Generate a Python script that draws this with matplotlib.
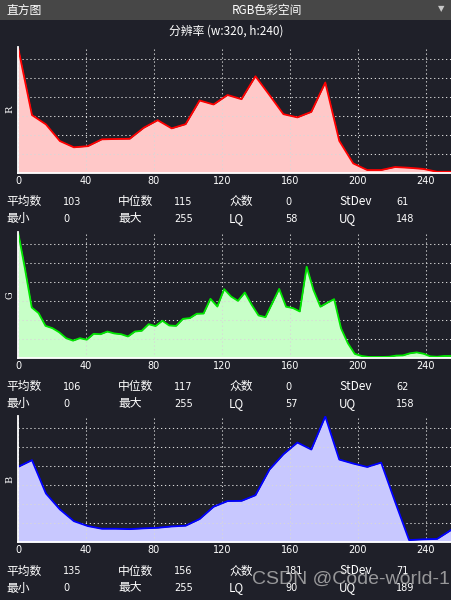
import matplotlib
matplotlib.use("Agg")
import matplotlib.pyplot as plt
import numpy as np

plt.rcParams['font.family'] = ['Noto Sans CJK SC', 'DejaVu Sans']

# histogram heights (in grid steps)
r_vals = [6.63, 3.04, 2.55, 1.67, 1.34, 1.40, 1.76, 1.78, 1.79, 2.37, 2.77, 2.34, 2.56, 3.81, 3.60, 4.10,
          3.88, 5.09, 4.10, 3.09, 2.92, 3.21, 4.76, 1.68, 0.49, 0.14, 0.14, 0.30, 0.26, 0.20, 0.05, 0.05]
g_vals = [6.65, 4.72, 2.65, 2.35, 1.68, 1.56, 1.34, 1.03, 0.90, 1.03, 0.95, 1.26, 1.24, 1.38, 1.28, 1.24,
          1.12, 1.38, 1.42, 1.77, 1.67, 1.95, 1.70, 1.68, 2.05, 2.09, 2.32, 2.33, 3.11, 2.70, 3.62, 3.23,
          3.00, 3.44, 2.79, 2.23, 2.14, 2.88, 3.63, 2.69, 2.62, 2.44, 4.80, 3.56, 2.69, 2.90, 3.09, 1.55,
          0.76, 0.20, 0.09, 0.04, 0.04, 0.04, 0.05, 0.11, 0.12, 0.23, 0.28, 0.21, 0.07, 0.05, 0.09, 0.09]
b_vals = [3.96, 4.32, 2.56, 1.72, 1.10, 0.84, 0.70, 0.70, 0.68, 0.72, 0.75, 0.82, 0.86, 1.21, 1.86, 2.16,
          2.17, 2.47, 3.82, 4.63, 5.25, 4.88, 6.63, 4.35, 4.14, 3.96, 4.19, 2.12, 0.10, 0.14, 0.16, 0.63]

xticks = [0, 40, 80, 120, 160, 200, 240]
names = ["R", "G", "B"]
row1_names = ["平均数", "中位数", "众数", "StDev"]
row2_names = ["最小", "最大", "LQ", "UQ"]
r_stats = [["103", "115", "0", "61"], ["0", "255", "58", "148"]]
g_stats = [["106", "117", "0", "62"], ["0", "255", "57", "158"]]
b_stats = [["135", "156", "181", "71"], ["0", "255", "90", "189"]]

bg = '#1f2029'
W, H = 451, 600
fig = plt.figure(figsize=(W / 100, H / 100), dpi=100, facecolor=bg)

def px(x, y):
    return x / W, 1 - y / H

# title bar
fig.patches.append(plt.Rectangle((0, 1 - 20 / H), 1, 20 / H, transform=fig.transFigure,
                                 facecolor='#474747', edgecolor='none', zorder=0))
fig.text(*px(6, 10), "直方图", color='white', fontsize=8.5, va='center', ha='left')
fig.text(*px(267, 10), "RGB色彩空间", color='white', fontsize=8.5, va='center', ha='center')
fig.text(*px(441, 9), "▼", color='#c8c8c8', fontsize=6, va='center', ha='center', family='DejaVu Sans')
fig.text(*px(226, 31), "分辨率 (w:320, h:240)", color='white', fontsize=8.5, va='center', ha='center')

panels = [
    (r_vals, '#ffc8c8', '#ff0000', r_stats, 172.7),
    (g_vals, '#c8ffc8', '#00e600', g_stats, 357.7),
    (b_vals, '#c8c8ff', '#0000ff', b_stats, 542.0),
]
col_x = [6.7, 63.3, 118.3, 174, 229, 285, 339.3, 396]

for k, (vals, fill, line, stats, bottom) in enumerate(panels):
    ax = fig.add_axes([18 / W, 1 - bottom / H, (W - 18) / W, 126 / H])
    ax.set_facecolor(bg)
    x = np.linspace(0, 255, len(vals))
    ax.fill_between(x, vals, color=fill, lw=0, zorder=1)
    ax.plot(x, vals, color=line, lw=1.3, zorder=3)
    ax.set_xlim(0, 255)
    ax.set_ylim(0, 6.65)
    ax.set_xticks(xticks)
    ax.set_yticks(range(1, 7))
    ax.set_yticklabels([])
    ax.tick_params(length=0, colors='white', labelsize=7, pad=2.5)
    for lab in ax.get_xticklabels():
        lab.set_family('DejaVu Sans')
    ax.grid(True, color='#d8d8d8', lw=0.75, linestyle=(0, (1.2, 2.6)), zorder=2)
    for s in ['top', 'right']:
        ax.spines[s].set_visible(False)
    for s in ['left', 'bottom']:
        ax.spines[s].set_color('white')
        ax.spines[s].set_linewidth(1.3)
        ax.spines[s].set_zorder(4)
    fig.text(*px(10, bottom - 63), names[k], color='white', fontsize=7, rotation=90,
             va='center', ha='center', family='DejaVu Serif')
    for row, (labels, values) in enumerate(zip([row1_names, row2_names], stats)):
        y = bottom + 29 + row * 17
        for j in range(4):
            fig.text(*px(col_x[2 * j], y), labels[j], color='white', fontsize=8.5,
                     va='center', ha='left')
            fig.text(*px(col_x[2 * j + 1], y), values[j], color='white', fontsize=7,
                     va='center', ha='left', family='DejaVu Sans')

fig.text(*px(351, 579), "CSDN @Code-world-1", color='#c0c0c0', alpha=0.75, fontsize=14,
         va='center', ha='center', family='Liberation Sans')

fig.savefig('out.png', dpi=100, facecolor=bg)
